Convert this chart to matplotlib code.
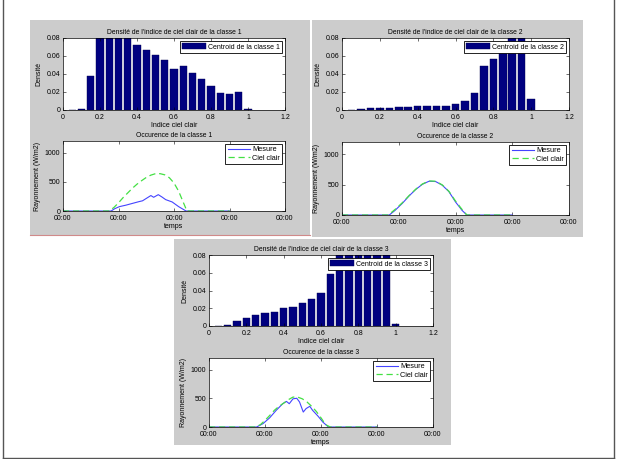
import numpy as np
import matplotlib
matplotlib.use('Agg')
import matplotlib.pyplot as plt
from matplotlib.patches import Rectangle
from matplotlib.lines import Line2D

# bins of the clear-sky index histogram
bins = [0.05, 0.10, 0.15, 0.20, 0.25, 0.30, 0.35, 0.40, 0.45, 0.50,
        0.55, 0.60, 0.65, 0.70, 0.75, 0.80, 0.85, 0.90, 0.95, 1.00]

# density of each class (bars above 0.08 are cut by the axis)
dens1 = [0.0003, 0.001, 0.038, 0.095, 0.105, 0.098, 0.088, 0.0725, 0.067, 0.061,
         0.0557, 0.046, 0.049, 0.041, 0.034, 0.027, 0.0187, 0.018, 0.020, 0.0008]
dens2 = [0.0005, 0.0008, 0.002, 0.002, 0.0025, 0.003, 0.003, 0.004, 0.004, 0.0045,
         0.005, 0.0066, 0.010, 0.019, 0.049, 0.057, 0.064, 0.095, 0.090, 0.012]
dens3 = [0.0, 0.001, 0.0057, 0.0088, 0.0122, 0.0149, 0.016, 0.0198, 0.021, 0.026,
         0.030, 0.0377, 0.0587, 0.085, 0.090, 0.092, 0.095, 0.090, 0.088, 0.002]

# daily profiles (hours, W/m2)
t_mes1 = [0, 5.2, 5.6, 6.1, 6.8, 7.5, 8.2, 8.6, 9.0, 9.5, 9.8, 10.3, 10.7, 11.1, 11.8, 12.5, 13.3, 18]
mes1 = [0, 0, 40, 75, 100, 130, 160, 175, 215, 265, 235, 280, 240, 195, 155, 75, 0, 0]
t_clair1 = [0, 5.0, 5.5, 6.0, 6.5, 7.0, 7.5, 8.0, 8.5, 9.0, 9.5, 10.0, 10.5, 11.0, 11.5, 12.0, 12.5, 13.0, 13.4, 18]
clair1 = [0, 0, 60, 140, 230, 310, 390, 460, 520, 575, 615, 640, 640, 620, 570, 480, 340, 150, 0, 0]

t_mes2 = [0, 5.0, 5.6, 6.4, 7.1, 7.8, 8.5, 9.2, 9.9, 10.6, 11.3, 12.0, 12.7, 13.2, 18]
mes2 = [0, 0, 75, 195, 315, 420, 505, 555, 550, 490, 385, 215, 75, 0, 0]
t_clair2 = [0, 4.9, 5.6, 6.4, 7.1, 7.8, 8.5, 9.2, 9.9, 10.6, 11.3, 12.0, 12.7, 13.2, 18]
clair2 = [0, 0, 90, 205, 320, 425, 510, 560, 555, 495, 390, 230, 90, 0, 0]

t_mes3 = [0, 5.1, 5.8, 6.5, 7.2, 7.9, 8.3, 8.6, 9.0, 9.4, 9.7, 10.1, 10.4, 10.8, 11.1, 11.7, 12.2, 12.8, 18]
mes3 = [0, 0, 60, 160, 290, 405, 445, 405, 490, 500, 435, 260, 320, 360, 290, 185, 85, 0, 0]
t_clair3 = [0, 5.0, 5.5, 6.0, 6.5, 7.0, 7.5, 8.0, 8.5, 9.0, 9.5, 10.0, 10.5, 11.0, 11.5, 12.0, 12.5, 13.0, 18]
clair3 = [0, 0, 40, 115, 200, 290, 360, 415, 475, 520, 520, 490, 435, 360, 270, 160, 40, 0, 0]

W, H = 617, 459
plt.rcParams['font.family'] = ['Liberation Sans', 'DejaVu Sans']
plt.rcParams['font.size'] = 5


def box(x0, y0, x1, y1):
    # pixel box (top-left origin) -> figure fraction rect
    return [x0 / W, 1 - y1 / H, (x1 - x0) / W, (y1 - y0) / H]


def style(ax):
    ax.tick_params(direction='in', top=True, right=True, length=2, width=0.4,
                   labelsize=5, pad=2)
    ax.tick_params(axis='x', pad=2.6)
    for s in ax.spines.values():
        s.set_linewidth(0.5)


def panel(fig, pbox, hbox, lbox, k, dens, t_mes, mes, t_clair, clair):
    x0, y0, x1, y1 = pbox
    fig.patches.append(Rectangle((x0 / W, 1 - y1 / H), (x1 - x0) / W, (y1 - y0) / H,
                                 transform=fig.transFigure, facecolor='#cccccc',
                                 edgecolor='none', zorder=-5))

    ax = fig.add_axes(box(*hbox))
    ax.bar(bins, dens, width=0.04, color='#000080', edgecolor='#000050', linewidth=0.3,
           label='Centroid de la classe %d' % k)
    ax.set_xlim(0, 1.2)
    ax.set_ylim(0, 0.08)
    ax.set_xticks([0, 0.2, 0.4, 0.6, 0.8, 1.0, 1.2])
    ax.set_xticklabels(['0', '0.2', '0.4', '0.6', '0.8', '1', '1.2'])
    ax.set_yticks([0, 0.02, 0.04, 0.06, 0.08])
    ax.set_yticklabels(['0', '0.02', '0.04', '0.06', '0.08'])
    ax.set_title("Densité de l'indice de ciel clair de la classe %d" % k, fontsize=4.9, pad=3)
    ax.set_xlabel('Indice ciel clair', fontsize=5, labelpad=1)
    ax.set_ylabel('Densité', fontsize=5, labelpad=3)
    style(ax)
    leg = ax.legend(loc='upper right', fontsize=5, fancybox=False, framealpha=1,
                    edgecolor='black', borderaxespad=0.4, handlelength=3.4,
                    handleheight=1.0, borderpad=0.35, handletextpad=0.3)
    leg.get_frame().set_linewidth(0.6)

    ax2 = fig.add_axes(box(*lbox))
    ax2.plot(t_mes, mes, color='#4444ff', lw=0.8, label='Mesure')
    ax2.plot(t_clair, clair, color='#44e044', lw=0.9, ls=(0, (5, 3)), label='Ciel clair')
    ax2.set_xlim(0, 24)
    ax2.set_ylim(0, 1200)
    ax2.set_xticks([0, 6, 12, 18, 24])
    ax2.set_xticklabels(['00:00'] * 5)
    ax2.set_yticks([0, 500, 1000])
    ax2.set_title('Occurence de la classe %d' % k, fontsize=4.9, pad=3)
    ax2.set_xlabel('temps', fontsize=5, labelpad=1)
    ax2.set_ylabel('Rayonnement (W/m2)', fontsize=5, labelpad=3)
    style(ax2)
    leg2 = ax2.legend(loc='upper right', fontsize=5.3, fancybox=False, framealpha=1,
                      edgecolor='black', borderaxespad=0.4, handlelength=3.0,
                      borderpad=0.3, handletextpad=0.3, labelspacing=0.2)
    leg2.get_frame().set_linewidth(0.6)


fig = plt.figure(figsize=(W / 100, H / 100), dpi=100)

panel(fig, (30, 20, 310, 235), (63, 38, 285, 110), (63, 141, 285, 211), 1,
      dens1, t_mes1, mes1, t_clair1, clair1)
panel(fig, (312, 20, 583, 237), (342, 38, 569, 110), (342, 142, 569, 215), 2,
      dens2, t_mes2, mes2, t_clair2, clair2)
panel(fig, (174, 239, 451, 445), (209, 255, 433, 326), (209, 358, 433, 427), 3,
      dens3, t_mes3, mes3, t_clair3, clair3)

# red line under the first panel and the outer frame
fig.lines.append(Line2D([30 / W, 310 / W], [1 - 235 / H, 1 - 235 / H],
                        transform=fig.transFigure, color='#d08a8a', lw=0.8))
frame = dict(transform=fig.transFigure, color='#555555', lw=1.0)
fig.lines.append(Line2D([3 / W, 3 / W], [0, 1], **frame))
fig.lines.append(Line2D([614 / W, 614 / W], [0, 1], **frame))
fig.lines.append(Line2D([3 / W, 614 / W], [1 - 458 / H, 1 - 458 / H], **frame))

fig.savefig('out.png', dpi=100)
